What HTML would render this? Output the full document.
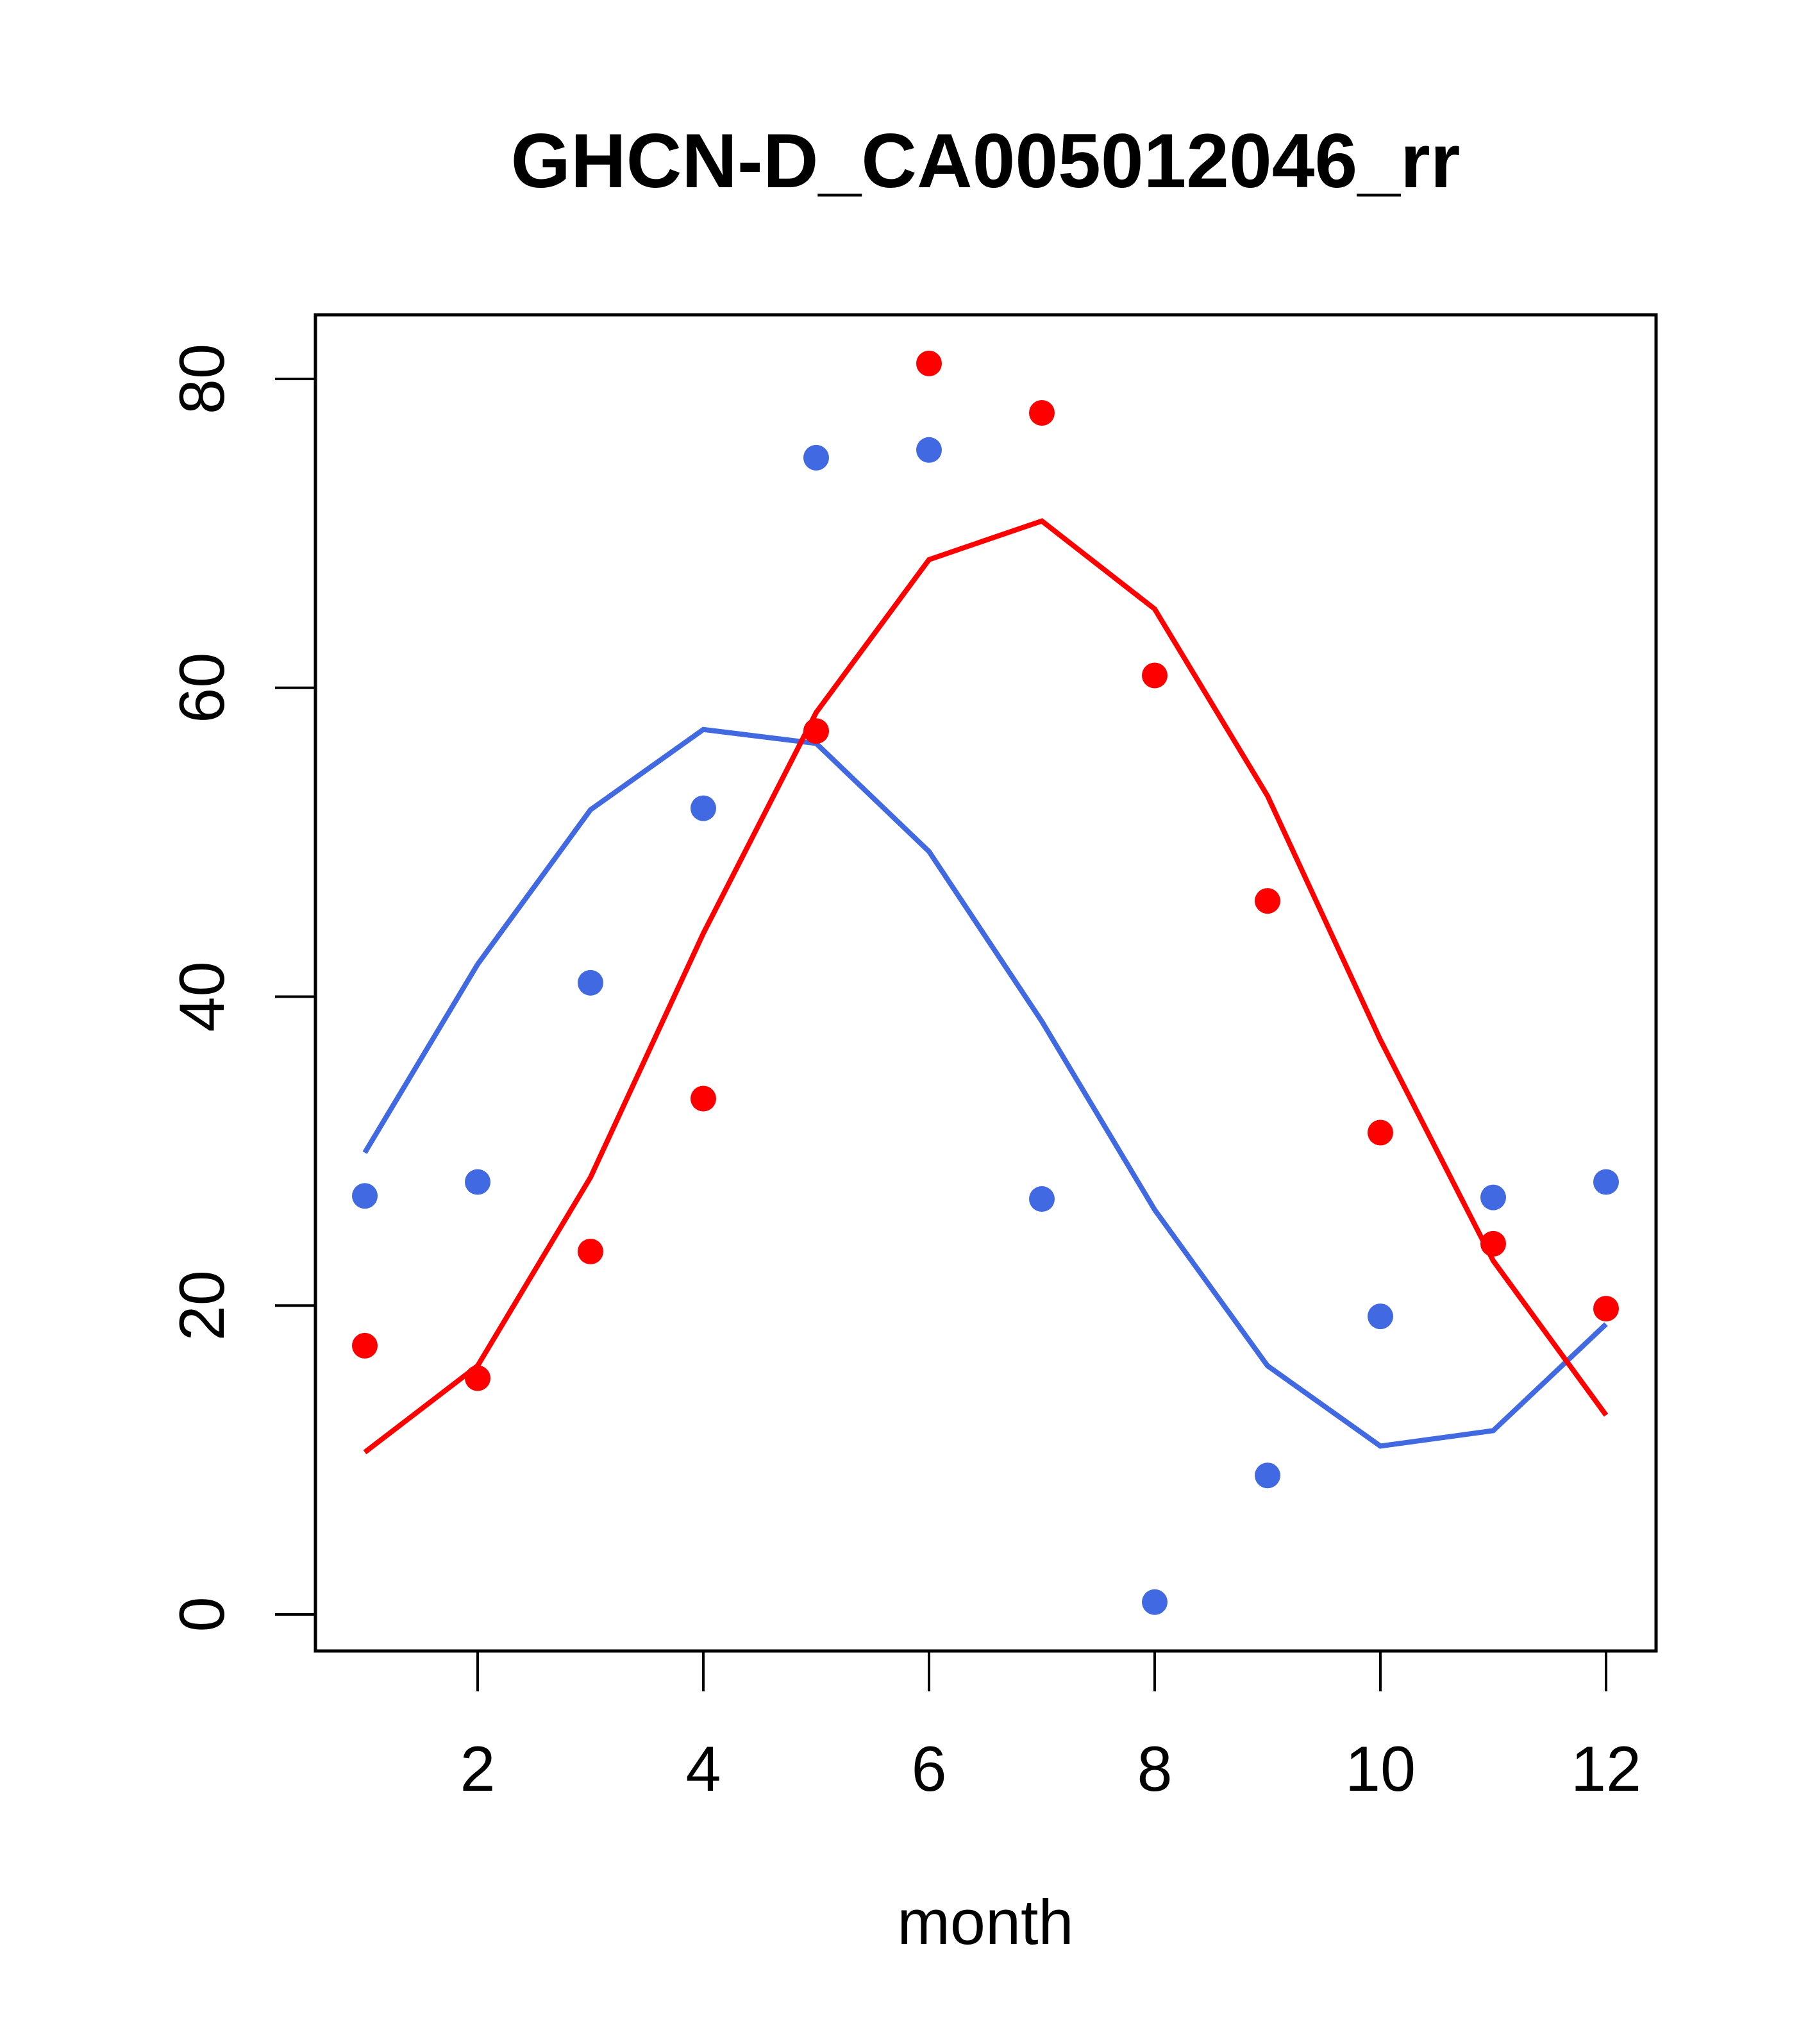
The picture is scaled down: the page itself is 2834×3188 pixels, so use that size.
<!DOCTYPE html>
<html><head><meta charset="utf-8"><style>html,body{margin:0;padding:0;background:#fff}svg{display:block}</style></head>
<body>
<svg id="chart" width="2834" height="3188" viewBox="0 0 2834 3188" xmlns="http://www.w3.org/2000/svg" font-family="Liberation Sans, sans-serif">
<rect width="2834" height="3188" fill="#fff"/>
<text x="1537" y="292" font-size="120" font-weight="bold" text-anchor="middle">GHCN-D_CA005012046_rr</text>
<rect x="492" y="491" width="2091" height="2084" fill="none" stroke="#000" stroke-width="5"/>
<text x="1537" y="3032" font-size="99" text-anchor="middle">month</text>
<g id="xaxis"></g>
<g id="yaxis"></g>
<g id="series"></g>
</svg>
<script>
const months = [1,2,3,4,5,6,7,8,9,10,11,12];
const bluePoints = [27.1,28.0,40.9,52.2,74.9,75.4,26.9,0.8,9.0,19.3,27.0,28.0];
const redPoints = [17.4,15.3,23.5,33.4,57.2,81.0,77.8,60.8,46.2,31.2,24.0,19.8];
const blueLine = [29.9,42.1,52.1,57.3,56.4,49.4,38.4,26.2,16.1,10.9,11.9,18.8];
const redLine = [10.5,16.1,28.3,44.1,58.4,68.3,70.8,65.1,53.0,37.2,22.9,12.9];
const xTicks = [2,4,6,8,10,12];
const yTicks = [0,20,40,60,80];

const NS = 'http://www.w3.org/2000/svg';
function X(m){ return 569 + (m-1)*176; }
function Y(v){ return 2518 - v*(2518-591)/80; }
function mk(tag, attrs, parent){ const e=document.createElementNS(NS,tag); for(const k in attrs) e.setAttribute(k,attrs[k]); parent.appendChild(e); return e; }

const xa=document.getElementById('xaxis'), ya=document.getElementById('yaxis'), sg=document.getElementById('series');
xTicks.forEach(t=>{
  const l=mk('line',{x1:X(t),x2:X(t),y1:2575,y2:2638,stroke:'#000','stroke-width':4},xa);
  
  
  const tx=mk('text',{x:X(t),y:2793,'font-size':99,'text-anchor':'middle'},xa);
  tx.textContent=t;
  
  
});
yTicks.forEach(t=>{
  const l=mk('line',{x1:429,x2:492,y1:Y(t),y2:Y(t),stroke:'#000','stroke-width':4},ya);
  
  
  const tx=mk('text',{x:0,y:0,'font-size':99,'text-anchor':'middle',transform:`translate(349,${Y(t)}) rotate(-90)`},ya);
  tx.textContent=t;
  
  
});
function line(vals,color,name){
  const p=mk('polyline',{points:months.map((m,i)=>X(m)+','+Y(vals[i])).join(' '),fill:'none',stroke:color,'stroke-width':8},sg);
  
  
}
function pts(vals,color,name){
  months.forEach((m,i)=>{
    const c=mk('circle',{cx:X(m),cy:Y(vals[i]),r:20,fill:color},sg);
    
    
  });
}
line(blueLine,'#4169E1','blue-line');
line(redLine,'#FF0000','red-line');
pts(bluePoints,'#4169E1','blue-point');
pts(redPoints,'#FF0000','red-point');
</script>
</body></html>
